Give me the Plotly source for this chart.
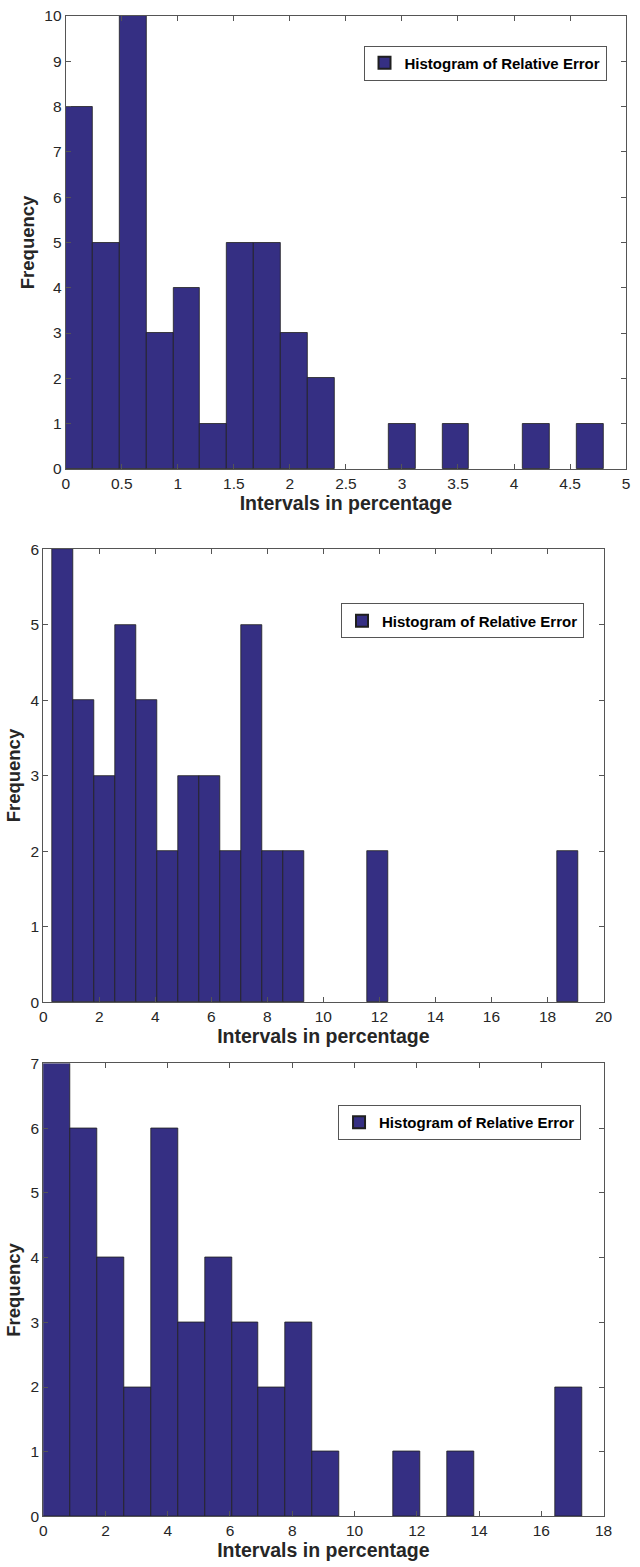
import plotly.graph_objects as go

W, H = 640, 1567

# panel 1: 20 bins from 0 to 4.8
p1_start = 0.0
p1_width = 0.24
p1_counts = [8, 5, 10, 3, 4, 1, 5, 5, 3, 2, 0, 0, 1, 0, 1, 0, 0, 1, 0, 1]

# panel 2: 25 bins from ~0.32 to ~19.08
p2_start = 0.315
p2_width = 0.7506
p2_counts = [6, 4, 3, 5, 4, 2, 3, 3, 2, 5, 2, 2, 0, 0, 0, 2, 0, 0, 0, 0, 0, 0, 0, 0, 2]

# panel 3: 20 bins from 0 to ~17.3
p3_start = 0.0
p3_width = 0.865
p3_counts = [7, 6, 4, 2, 6, 3, 4, 3, 2, 3, 1, 0, 0, 1, 0, 1, 0, 0, 0, 2]

x_ranges = [[0, 5], [0, 20], [0, 18]]
x_dticks = [0.5, 2, 2]
y_ranges = [[0, 10], [0, 6], [0, 7]]

legend_name = 'Histogram of Relative Error'
x_title = 'Intervals in percentage'
y_title = 'Frequency'

bar_color = '#352f83'
font = 'Liberation Sans, Arial, Helvetica, sans-serif'

# plot areas in pixels (left, right, top, bottom)
boxes = [(63, 635, 7, 465), (40, 612, 546, 1004), (40, 612, 1066, 1524)]
legend_pos = [(615, 37), (592, 601), (589, 1108)]

panels = [(p1_start, p1_width, p1_counts),
          (p2_start, p2_width, p2_counts),
          (p3_start, p3_width, p3_counts)]

fig = go.Figure()
for i, (start, width, counts) in enumerate(panels):
    n = i + 1
    sfx = '' if n == 1 else str(n)
    centers = [start + width * (k + 0.5) for k in range(len(counts))]
    # empty bins drawn as nothing (like matlab, no outline on the axis)
    heights = [c if c else None for c in counts]
    fig.add_trace(go.Bar(
        x=centers, y=heights, width=width,
        name=legend_name,
        marker=dict(color=bar_color, line=dict(color='#1f1f1f', width=0.8)),
        xaxis='x' + sfx, yaxis='y' + sfx,
        legend='legend' + sfx,
        showlegend=True,
    ))
    l, r, t, b = boxes[i]
    axis_common = dict(
        showline=True, linecolor='#555555', linewidth=1, mirror='ticks',
        ticks='inside', ticklen=5, tickcolor='#555555',
        showgrid=False, zeroline=False,
        tickfont=dict(family=font, size=15.5, color='#262626'),
    )
    fig.update_layout({
        'xaxis' + sfx: dict(
            domain=[l / W, r / W], anchor='y' + sfx,
            range=x_ranges[i], dtick=x_dticks[i], tick0=0,
            title=dict(text='<b>' + x_title + '</b>', standoff=0,
                       font=dict(family=font, size=19.5, color='#262626')),
            **axis_common),
        'yaxis' + sfx: dict(
            domain=[1 - b / H, 1 - t / H], anchor='x' + sfx,
            range=y_ranges[i], dtick=1,
            title=dict(text='<b>' + y_title + '</b>', standoff=4,
                       font=dict(family=font, size=18.5, color='#262626')),
            **axis_common),
        'legend' + sfx: dict(
            x=legend_pos[i][0] / W, y=1 - legend_pos[i][1] / H,
            xanchor='right', yanchor='top',
            bgcolor='white', bordercolor='#555555', borderwidth=1,
            font=dict(family=font, size=15, color='black', weight='bold'),
            itemsizing='constant', itemwidth=30, tracegroupgap=0,
        ),
    })

fig.update_layout(
    width=W, height=H,
    margin=dict(l=0, r=0, t=0, b=0),
    plot_bgcolor='white', paper_bgcolor='white',
    bargap=0,
)

# no default page margin so the figure sits at the window origin
fig.write_html("out.html",
               config={'displayModeBar': False},
               post_script="document.body.style.margin='0';"
                           "document.body.style.overflow='hidden';")
